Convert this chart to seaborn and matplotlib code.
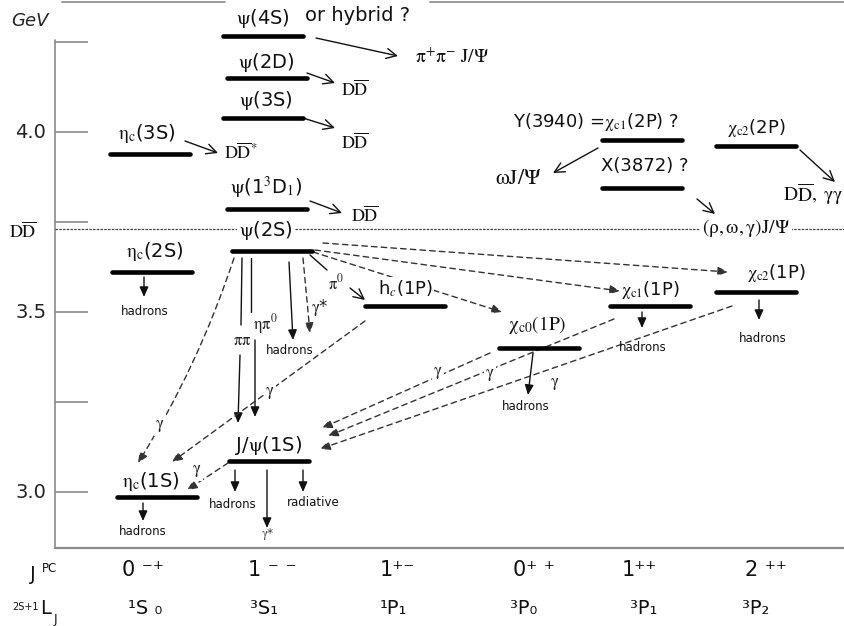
import numpy as np
import pandas as pd
import matplotlib
matplotlib.use("Agg")
import matplotlib.pyplot as plt
import seaborn as sns

# ---------------- data (masses in GeV) ----------------
level_names = ["psi4S", "psi2D", "psi3S", "etac3S", "psi1D", "psi2S", "etac2S",
               "hc1P", "chic0_1P", "chic1_1P", "chic2_1P", "Jpsi1S", "etac1S",
               "Y3940", "X3872", "chic2_2P"]
level_mass = [4.267, 4.150, 4.039, 3.939, 3.786, 3.670, 3.612,
              3.517, 3.400, 3.517, 3.556, 3.086, 2.987,
              3.978, 3.844, 3.961]
level_jpc = ["1--", "1--", "1--", "0-+", "1--", "1--", "0-+",
             "1+-", "0++", "1++", "2++", "1--", "0-+",
             "1++", "1++", "2++"]
dd_threshold = 3.73
major_ticks = [3.0, 3.5, 4.0]
minor_ticks = [3.25, 3.75, 4.25]
jpc_labels = ["0 \u207b\u207a", "1 \u207b \u207b", "1\u207a\u207b", "0\u207a \u207a", "1\u207a\u207a", "2 \u207a\u207a"]
term_labels = ["\u00b9S \u2080", "\u00b3S\u2081", "\u00b9P\u2081", "\u00b3P\u2080", "\u00b3P\u2081", "\u00b3P\u2082"]

# ---------------- layout (pixel based) ----------------
W, H = 845, 626
def M(py):
    return 3.0 + (492 - py) / 360.0
def P(px, py):
    return (px, M(py))

level_xc = [263, 267, 263, 150, 267, 272, 152, 405, 539, 650, 756, 269, 157, 642, 642, 756]
half_w = 40

sns.set_theme(style="white")
plt.rcParams["font.family"] = ["DejaVu Sans"]
plt.rcParams["mathtext.fontset"] = "stix"

fig = plt.figure(figsize=(W / 100, H / 100), dpi=100)
ax = fig.add_axes([0, 0, 1, 1])
ax.set_xlim(0, W)
ax.set_ylim(M(H), M(0))
ax.axis("off")

# levels
rows = []
for n, m, xc in zip(level_names, level_mass, level_xc):
    rows.append({"level": n, "x": xc - half_w, "mass": m})
    rows.append({"level": n, "x": xc + half_w, "mass": m})
df = pd.DataFrame(rows)
sns.lineplot(data=df, x="x", y="mass", units="level", estimator=None, sort=False,
             color="black", lw=3.3, ax=ax, legend=False, zorder=4)
ax.set_xlabel("")
ax.set_ylabel("")

# axis frame
grey = "#8a8a8a"
ax.plot([55, 55], [M(548), M(40)], color=grey, lw=1.2)
ax.plot([55, W], [M(548), M(548)], color=grey, lw=1.6)
ax.plot([62, 225], [M(2), M(2)], color=grey, lw=1.2)
ax.plot([430, W], [M(2), M(2)], color=grey, lw=1.2)
ax.hlines(major_ticks + minor_ticks, 55, 88, color=grey, lw=1.2)
for t in major_ticks:
    ax.text(31, t, f"{t:.1f}", ha="center", va="center", fontsize=14, color="#222")
ax.text(30, M(21), "GeV", ha="center", va="center", fontsize=13, style="italic", color="#222")

# DD threshold
ax.hlines(dd_threshold, 55, W, color="#444", lw=0.9, linestyles=(0, (2, 1)), zorder=2)

lab_kw = dict(ha="center", va="center", fontsize=13, color="#111", zorder=5)
big_kw = dict(ha="center", va="center", fontsize=14, color="#111", zorder=5)
white = dict(boxstyle="square,pad=0.1", fc="white", ec="none")

# level labels
ax.text(*P(263, 18), r"$\mathrm{\psi}$(4S)", **big_kw)
ax.text(*P(305, 15), "or hybrid ?", ha="left", va="center", fontsize=14, color="#111")
ax.text(*P(266, 62), r"$\mathrm{\psi}$(2D)", **big_kw)
ax.text(*P(266, 100), r"$\mathrm{\psi}$(3S)", **big_kw)
ax.text(*P(147, 133), r"$\mathrm{\eta_c}$(3S)", **big_kw)
ax.text(*P(266, 188), r"$\mathrm{\psi}$(1$^3$D$_1$)", **big_kw)
ax.text(*P(266, 230), r"$\mathrm{\psi}$(2S)", bbox=white, **big_kw)
ax.text(*P(155, 251), r"$\mathrm{\eta_c}$(2S)", **big_kw)
ax.text(*P(405, 289), r"h$_c$(1P)", bbox=white, **lab_kw)
ax.text(*P(537, 325), r"$\mathrm{\chi_{c0}(1P)}$", ha="center", va="center", fontsize=14, color="#111", zorder=5)
ax.text(*P(650, 290), r"$\mathrm{\chi_{c1}}$(1P)", **lab_kw)
ax.text(*P(776, 273), r"$\mathrm{\chi_{c2}}$(1P)", **lab_kw)
ax.text(*P(269, 445), r"J/$\mathrm{\psi}$(1S)", **big_kw)
ax.text(*P(151, 481), r"$\mathrm{\eta_c}$(1S)", **big_kw)
ax.text(*P(596, 122), r"Y(3940) =$\mathrm{\chi_{c1}}$(2P) ?", **lab_kw)
ax.text(*P(645, 166), "X(3872) ?", **lab_kw)
ax.text(*P(756, 128), r"$\mathrm{\chi_{c2}}$(2P)", **lab_kw)

# final-state labels (serif)
ser = dict(ha="center", va="center", fontsize=13, color="#111", zorder=5)
ser14 = dict(ha="center", va="center", fontsize=14, color="#111", zorder=5)
ax.text(*P(452, 57), r"$\mathrm{\pi^{+}\pi^{-}\ J/\Psi}$", **ser14)
ax.text(*P(355, 90), r"$\mathrm{D\overline{D}}$", **ser)
ax.text(*P(355, 143), r"$\mathrm{D\overline{D}}$", **ser)
ax.text(*P(365, 216), r"$\mathrm{D\overline{D}}$", **ser)
ax.text(*P(23, 232), r"$\mathrm{D\overline{D}}$", bbox=white, **ser)
ax.text(*P(241, 153), r"$\mathrm{D\overline{D}^{*}}$", **ser)
ax.text(*P(518, 178), r"$\mathrm{\omega J/\Psi}$", ha="center", va="center", fontsize=16, color="#111")
ax.text(*P(746, 228), r"$\mathrm{(\rho,\omega,\gamma)J/\Psi}$", bbox=white, **ser14)
ax.text(*P(813, 194), r"$\mathrm{D\overline{D},\ \gamma\gamma}$", **ser14)

small = dict(ha="center", va="center", fontsize=12, color="#222", zorder=5)
ax.text(*P(242, 340), r"$\mathrm{\pi\pi}$", bbox=white, **small)
ax.text(*P(265, 324), r"$\mathrm{\eta\pi^0}$", **small)
ax.text(*P(336, 283), r"$\mathrm{\pi^0}$", **small)
ax.text(*P(320, 307), r"$\mathrm{\gamma}$*", **small)
for gx, gy in [(160, 425), (270, 392), (438, 372), (490, 374), (555, 383), (197, 470)]:
    ax.text(*P(gx, gy), r"$\mathrm{\gamma}$", bbox=white, **small)

had = dict(ha="center", va="center", fontsize=8.5, color="#111", zorder=5)
for hx, hy, t in [(145, 311, "hadrons"), (290, 350, "hadrons"), (643, 347, "hadrons"),
                  (763, 338, "hadrons"), (526, 406, "hadrons"), (233, 505, "hadrons"),
                  (313, 503, "radiative"), (143, 531, "hadrons")]:
    ax.text(*P(hx, hy), t, **had)
ax.text(*P(268, 534), r"$\mathrm{\gamma}$*", ha="center", va="center", fontsize=9, color="#444")

# arrows
def arrow(p0, p1, style="-|>", ls="-", color="#111", lw=1.0, rad=0.0, hl=0.5, hw=0.22):
    if style == "-|>":
        st = f"-|>,head_length={hl},head_width={hw}"
    elif style == "->":
        st = "->,head_length=0.6,head_width=0.3"
    else:
        st = style
    ax.annotate("", xy=P(*p1), xytext=P(*p0),
                arrowprops=dict(arrowstyle=st, color=color, lw=lw, linestyle=ls,
                                shrinkA=0, shrinkB=0,
                                connectionstyle=f"arc3,rad={rad}"), zorder=3)

def line(p0, p1, ls="-", color="#111", lw=1.0):
    ax.plot([p0[0], p1[0]], [M(p0[1]), M(p1[1])], color=color, lw=lw, ls=ls, zorder=3)

# open arrows to final states
for a, b in [((316, 38), (398, 56)), ((307, 73), (335, 83)), ((303, 118), (335, 128)),
             ((185, 141), (218, 153)), ((310, 201), (342, 213)), ((598, 148), (553, 173)),
             ((697, 199), (715, 214)), ((800, 150), (835, 182)), ((350, 288), (365, 300))]:
    arrow(a, b, style="->")

# solid decays
for a, b in [((144, 277), (144, 297)), ((240, 355), (238, 423)), ((255, 340), (255, 417)),
             ((289, 262), (293, 340)), ((642, 312), (642, 328)), ((759, 300), (759, 320)),
             ((533, 353), (528, 395)), ((235, 470), (235, 492)), ((303, 470), (303, 492)),
             ((267, 470), (267, 528)), ((143, 503), (143, 521))]:
    arrow(a, b)
line((242, 258), (241, 325))
line((251, 258), (251, 312))
line((310, 255), (327, 270))

# dashed radiative transitions
dash = (0, (4, 3))
dcol = "#333"
arrow((303, 258), (310, 333), ls=dash, color=dcol)
arrow((234, 258), (138, 463), ls=dash, color=dcol, rad=-0.06)
arrow((323, 243), (728, 272), ls=dash, color=dcol)
arrow((315, 250), (620, 291), ls=dash, color=dcol)
arrow((313, 252), (502, 312), ls=dash, color=dcol)
arrow((365, 321), (172, 462), ls=dash, color=dcol)
arrow((490, 353), (322, 428), ls=dash, color=dcol)
arrow((614, 319), (328, 436), ls=dash, color=dcol)
arrow((732, 306), (320, 449), ls=dash, color=dcol)
arrow((228, 463), (187, 490), ls=dash, color=dcol)

# bottom quantum-number rows
ax.text(*P(33, 575), "J", ha="center", va="center", fontsize=14, color="#111")
ax.text(*P(50, 569), "PC", ha="center", va="center", fontsize=8.5, color="#111")
ax.text(*P(26, 607), "2S+1", ha="center", va="center", fontsize=7, color="#111")
ax.text(*P(46, 609), "L", ha="center", va="center", fontsize=14, color="#111")
ax.text(*P(55, 620), "J", ha="center", va="center", fontsize=9, color="#111")
jpc_x = [122, 248, 380, 513, 622, 745]
term_x = [128, 250, 380, 510, 630, 742]
for x, t in zip(jpc_x, jpc_labels):
    ax.text(*P(x, 570), t, ha="left", va="center", fontsize=15, color="#111")
for x, t in zip(term_x, term_labels):
    ax.text(*P(x, 609), t, ha="left", va="center", fontsize=14, color="#111")

fig.savefig("out.png", dpi=100)
